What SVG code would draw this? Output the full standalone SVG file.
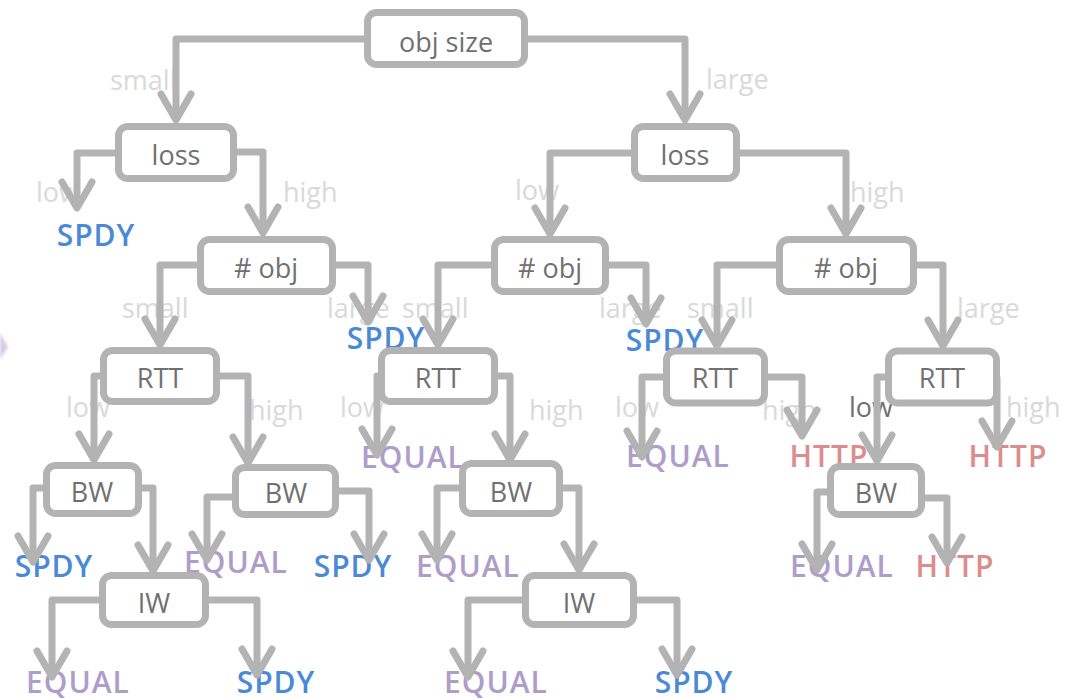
<svg xmlns="http://www.w3.org/2000/svg" width="1082" height="698" viewBox="0 0 1082 698">
  <defs>
    <style>
      .box { fill: #ffffff; stroke: #b3b3b3; stroke-width: 7; }
      .name { font-family: "Open Sans", "Noto Sans", sans-serif; font-size: 27px; fill: #707070; text-anchor: middle; }
      .edge { fill: none; stroke: #b3b3b3; stroke-width: 7; stroke-linejoin: round; marker-end: url(#chev); }
      .cond { font-family: "Open Sans", "Noto Sans", sans-serif; font-size: 27px; fill: #d9d9d9; }
      .cond.dark { fill: #707070; }
      .leaf { font-family: "Open Sans", "Noto Sans", sans-serif; font-size: 30px; font-weight: 600; letter-spacing: 1px; text-anchor: middle; }
      .spdy { fill: #4a89d6; }
      .equal { fill: #ae9dc9; }
      .http { fill: #db8d8d; }
    </style>
    <marker id="chev" markerUnits="userSpaceOnUse" markerWidth="40" markerHeight="40" refX="0" refY="0" orient="auto" overflow="visible">
      <path d="M-26,-15 L0,0 L-26,15" fill="none" stroke="#b3b3b3" stroke-width="7" stroke-linecap="round" stroke-linejoin="round"/>
    </marker>
    <filter id="soft" x="-50%" y="-50%" width="200%" height="200%">
      <feGaussianBlur stdDeviation="1.5"/>
    </filter>
  </defs>

  <rect width="1082" height="698" fill="#ffffff"/>

  <!-- faint mark on the left margin -->
  <polygon points="0,333 8,347 0,360" fill="#d6cbe8" filter="url(#soft)"/>

  <!-- branch conditions -->
  <g id="edge-labels">
    <text class="cond" x="110" y="90">small</text>
    <text class="cond" x="706" y="89">large</text>
    <text class="cond" x="36" y="202">low</text>
    <text class="cond" x="283" y="202">high</text>
    <text class="cond" x="515" y="200">low</text>
    <text class="cond" x="850" y="202">high</text>
    <text class="cond" x="122" y="318">small</text>
    <text class="cond" x="327" y="318">large</text>
    <text class="cond" x="402" y="318">small</text>
    <text class="cond" x="599" y="318">large</text>
    <text class="cond" x="687" y="318">small</text>
    <text class="cond" x="957" y="318">large</text>
    <text class="cond" x="66" y="417">low</text>
    <text class="cond" x="249" y="420">high</text>
    <text class="cond" x="340" y="417">low</text>
    <text class="cond" x="529" y="420">high</text>
    <text class="cond" x="615" y="417">low</text>
    <text class="cond" x="762" y="420">high</text>
    <text class="cond dark" x="849" y="417">low</text>
    <text class="cond" x="1006" y="417">high</text>
  </g>

  <!-- outcomes -->
  <g id="leaf-spdy-1"><text class="leaf spdy" x="96" y="246">SPDY</text></g>
  <g id="leaf-spdy-2"><text class="leaf spdy" x="386" y="349">SPDY</text></g>
  <g id="leaf-spdy-3"><text class="leaf spdy" x="665" y="351">SPDY</text></g>
  <g id="leaf-equal-1"><text class="leaf equal" x="413" y="468">EQUAL</text></g>
  <g id="leaf-equal-2"><text class="leaf equal" x="678" y="467">EQUAL</text></g>
  <g id="leaf-http-1"><text class="leaf http" x="829" y="467">HTTP</text></g>
  <g id="leaf-http-2"><text class="leaf http" x="1008" y="467">HTTP</text></g>
  <g id="leaf-spdy-4"><text class="leaf spdy" x="54" y="577">SPDY</text></g>
  <g id="leaf-equal-3"><text class="leaf equal" x="236" y="573">EQUAL</text></g>
  <g id="leaf-spdy-5"><text class="leaf spdy" x="353" y="577">SPDY</text></g>
  <g id="leaf-equal-4"><text class="leaf equal" x="468" y="577">EQUAL</text></g>
  <g id="leaf-equal-5"><text class="leaf equal" x="842" y="577">EQUAL</text></g>
  <g id="leaf-http-3"><text class="leaf http" x="955" y="577">HTTP</text></g>
  <g id="leaf-equal-6"><text class="leaf equal" x="78" y="693">EQUAL</text></g>
  <g id="leaf-spdy-6"><text class="leaf spdy" x="276" y="693">SPDY</text></g>
  <g id="leaf-equal-7"><text class="leaf equal" x="496" y="693">EQUAL</text></g>
  <g id="leaf-spdy-7"><text class="leaf spdy" x="694" y="693">SPDY</text></g>

  <!-- connectors -->
  <g id="connectors">
    <path class="edge" d="M368,39 H176 V120"/>
    <path class="edge" d="M524,39 H685 V120"/>
    <path class="edge" d="M119,153 H77 V208"/>
    <path class="edge" d="M233,152 H263 V233"/>
    <path class="edge" d="M635,153 H550 V234"/>
    <path class="edge" d="M737,153 H846 V234"/>
    <path class="edge" d="M201,265 H160 V345"/>
    <path class="edge" d="M333,265 H368 V322"/>
    <path class="edge" d="M495,265 H438 V345"/>
    <path class="edge" d="M606,265 H646 V324"/>
    <path class="edge" d="M780,265 H717 V346"/>
    <path class="edge" d="M914,265 H943 V346"/>
    <path class="edge" d="M104,376 H94 V460"/>
    <path class="edge" d="M217,376 H248 V463"/>
    <path class="edge" d="M382,376 H377 V455"/>
    <path class="edge" d="M495,376 H510 V460"/>
    <path class="edge" d="M667,377 H642 V457"/>
    <path class="edge" d="M765,377 H802 V436"/>
    <path class="edge" d="M889,377 H877 V461"/>
    <path class="edge" d="M997,377 V447"/>
    <path class="edge" d="M47,488 H33 V562"/>
    <path class="edge" d="M139,488 H153 V571"/>
    <path class="edge" d="M236,497 H207 V560"/>
    <path class="edge" d="M336,491 H369 V560"/>
    <path class="edge" d="M463,488 H437 V560"/>
    <path class="edge" d="M560,488 H579 V570"/>
    <path class="edge" d="M831,492 H817 V570"/>
    <path class="edge" d="M922,498 H947 V563"/>
    <path class="edge" d="M103,600 H52 V677"/>
    <path class="edge" d="M206,600 H257 V675"/>
    <path class="edge" d="M526,600 H468 V677"/>
    <path class="edge" d="M634,600 H677 V675"/>
  </g>

  <!-- decision nodes -->
  <g id="node-objsize">
    <rect class="box" x="367.5" y="12.5" width="157" height="52" rx="9"/>
    <text class="name" x="446" y="52">obj size</text>
  </g>
  <g id="node-loss-small">
    <rect class="box" x="118.5" y="126.5" width="115" height="52" rx="9"/>
    <text class="name" x="176" y="165">loss</text>
  </g>
  <g id="node-loss-large">
    <rect class="box" x="634.5" y="126.5" width="102" height="52" rx="9"/>
    <text class="name" x="685" y="165">loss</text>
  </g>
  <g id="node-nobj-1">
    <rect class="box" x="200.5" y="239.5" width="132" height="52" rx="9"/>
    <text class="name" x="266" y="278"># obj</text>
  </g>
  <g id="node-nobj-2">
    <rect class="box" x="494.5" y="239.5" width="111" height="52" rx="9"/>
    <text class="name" x="550" y="278"># obj</text>
  </g>
  <g id="node-nobj-3">
    <rect class="box" x="779.5" y="239.5" width="134" height="52" rx="9"/>
    <text class="name" x="846" y="278"># obj</text>
  </g>
  <g id="node-rtt-1">
    <rect class="box" x="103.5" y="350.5" width="113" height="51" rx="9"/>
    <text class="name" x="160" y="388">RTT</text>
  </g>
  <g id="node-rtt-2">
    <rect class="box" x="381.5" y="350.5" width="113" height="51" rx="9"/>
    <text class="name" x="438" y="388">RTT</text>
  </g>
  <g id="node-rtt-3">
    <rect class="box" x="666.5" y="351" width="98" height="52" rx="9"/>
    <text class="name" x="715" y="388">RTT</text>
  </g>
  <g id="node-rtt-4">
    <rect class="box" x="888.5" y="351" width="108" height="52" rx="9"/>
    <text class="name" x="942" y="388">RTT</text>
  </g>
  <g id="node-bw-1">
    <rect class="box" x="46.5" y="465.5" width="92" height="48" rx="9"/>
    <text class="name" x="92" y="502">BW</text>
  </g>
  <g id="node-bw-2">
    <rect class="box" x="235.5" y="467.5" width="100" height="47" rx="9"/>
    <text class="name" x="286" y="503">BW</text>
  </g>
  <g id="node-bw-3">
    <rect class="box" x="462.5" y="463.5" width="97" height="50" rx="9"/>
    <text class="name" x="511" y="502">BW</text>
  </g>
  <g id="node-bw-4">
    <rect class="box" x="830.5" y="466.5" width="91" height="48" rx="9"/>
    <text class="name" x="876" y="503">BW</text>
  </g>
  <g id="node-iw-1">
    <rect class="box" x="102.5" y="575.5" width="103" height="49" rx="9"/>
    <text class="name" x="154" y="613">IW</text>
  </g>
  <g id="node-iw-2">
    <rect class="box" x="525.5" y="575.5" width="108" height="49" rx="9"/>
    <text class="name" x="579" y="613">IW</text>
  </g>
</svg>
